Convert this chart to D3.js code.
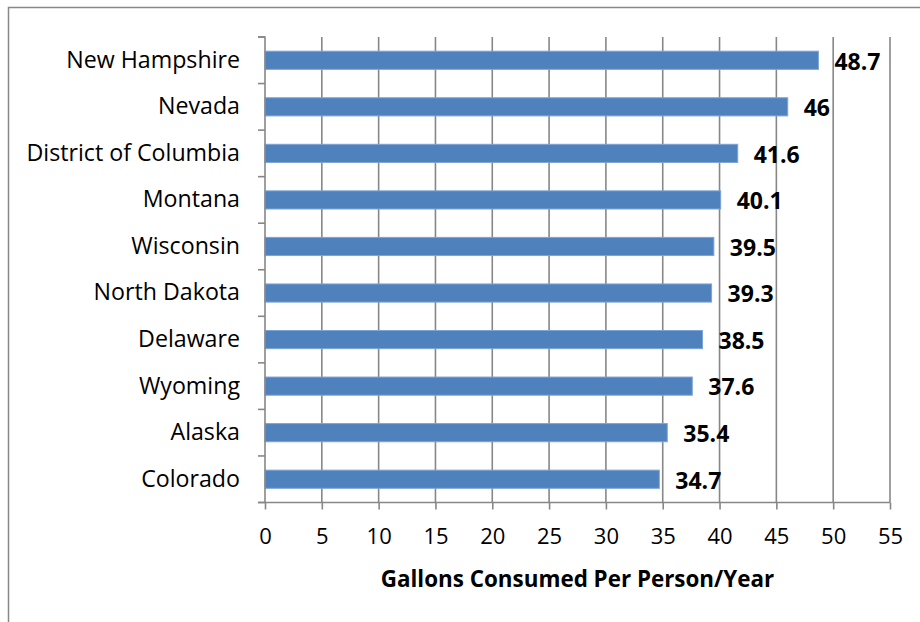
<!DOCTYPE html>
<html><head><meta charset="utf-8">
<script src="https://cdn.jsdelivr.net/npm/d3@7"></script>
<style>body{margin:0;background:#fff;} svg{display:block;}</style>
</head><body>
<svg id="c" width="920" height="622"></svg>
<script>
const categories = ["New Hampshire","Nevada","District of Columbia","Montana","Wisconsin","North Dakota","Delaware","Wyoming","Alaska","Colorado"];
const values = [48.7,46,41.6,40.1,39.5,39.3,38.5,37.6,35.4,34.7];
const tickValues = [0,5,10,15,20,25,30,35,40,45,50,55];
const axisTitle = "Gallons Consumed Per Person/Year";

const svg = d3.select("#c");
const font = "'Open Sans', sans-serif";
const grid = "#878787";
const L = 265, R = 890, T = 37, B = 502.5;

svg.append("rect").attr("x",8.5).attr("y",7.5).attr("width",940).attr("height",640)
  .attr("fill","none").attr("stroke","#888").attr("stroke-width",1.5);

const x = d3.scaleLinear().domain([0,55]).range([L,R]);
const y = d3.scaleBand().domain(categories).range([T,B]).paddingInner(0.61).paddingOuter(0.305);

// gridlines
svg.append("g").selectAll("line").data(tickValues.slice(1)).join("line")
  .attr("x1",d=>x(d)).attr("x2",d=>x(d)).attr("y1",T).attr("y2",B)
  .attr("stroke",grid).attr("stroke-width",1.6);

// bars
svg.append("g").selectAll("rect").data(values).join("rect")
  .attr("x",x(0)).attr("y",(d,i)=>y(categories[i]))
  .attr("width",d=>x(d)-x(0)).attr("height",y.bandwidth())
  .attr("fill","#4F81BD").attr("stroke","#7DA4D6").attr("stroke-width",1);

// x axis
const xAxis = d3.axisBottom(x).tickValues(tickValues).tickSize(7).tickPadding(19).tickFormat(d3.format("d"));
const gx = svg.append("g").attr("transform",`translate(0,${B})`).call(xAxis);
gx.select(".domain").attr("stroke",grid).attr("stroke-width",1.6).attr("d",`M${L},0H${R}`);
gx.selectAll(".tick line").attr("stroke",grid).attr("stroke-width",1.6);
gx.selectAll("text").attr("font-family",font).attr("font-size",22).attr("fill","#000");

// y axis
const band = y.step();
const yAxis = d3.axisLeft(y).tickSize(0).tickPadding(25);
const gy = svg.append("g").attr("transform",`translate(${L},0)`).call(yAxis);
gy.select(".domain").attr("stroke",grid).attr("stroke-width",1.6).attr("d",`M-7,${T}H0V${B}H-7`);
gy.selectAll("text").attr("font-family",font).attr("font-size",23.2).attr("fill","#000");
// category boundary ticks
const bounds = d3.range(categories.length+1).map(i=>T+i*band);
svg.append("g").selectAll("line").data(bounds).join("line")
  .attr("x1",L-7).attr("x2",L).attr("y1",d=>d).attr("y2",d=>d)
  .attr("stroke",grid).attr("stroke-width",1.6);

// value labels
svg.append("g").selectAll("text").data(values).join("text")
  .attr("x",d=>x(d)+16).attr("y",(d,i)=>y(categories[i])+y.bandwidth()/2+1)
  .attr("dy","0.36em").attr("font-family",font).attr("font-weight","bold").attr("font-size",23)
  .attr("fill","#000").text(d=>d);

// axis title
svg.append("text").attr("x",577.5).attr("y",587).attr("text-anchor","middle")
  .attr("font-family",font).attr("font-weight","bold").attr("font-size",22.4).attr("fill","#000")
  .text(axisTitle);
</script>
</body></html>
